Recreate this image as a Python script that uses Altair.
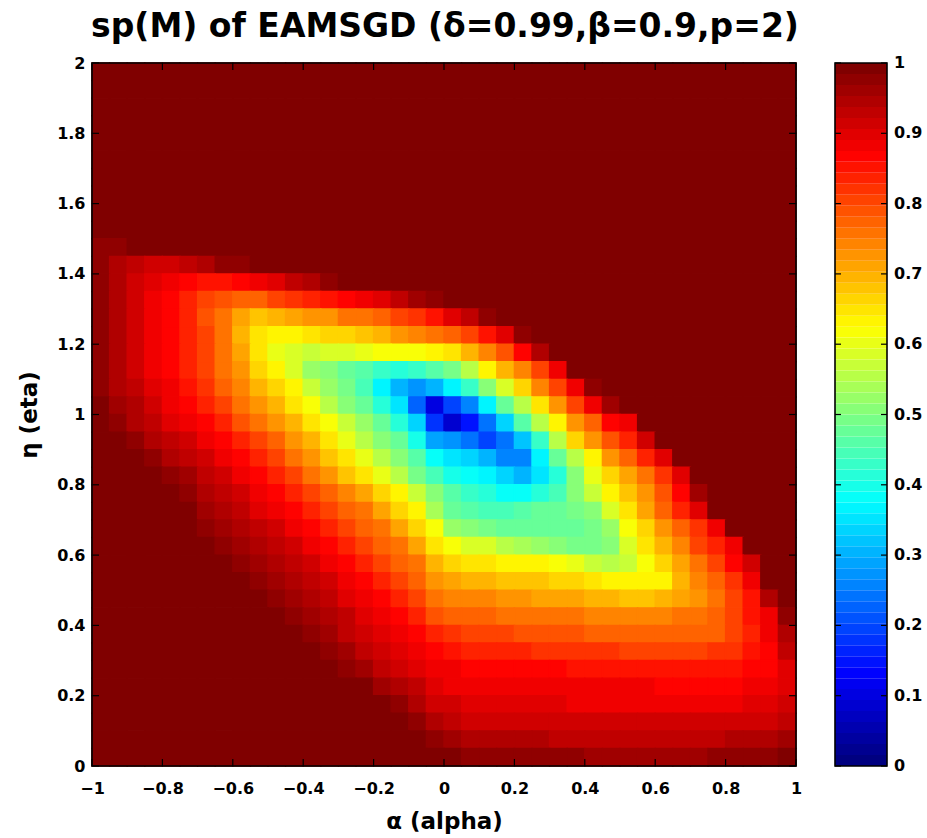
import altair as alt
import pandas as pd

# ---------------- grid (cell centres, step 0.05) ----------------
alpha_centers = [-0.975, -0.925, -0.875, -0.825, -0.775, -0.725, -0.675, -0.625, -0.575, -0.525,
                 -0.475, -0.425, -0.375, -0.325, -0.275, -0.225, -0.175, -0.125, -0.075, -0.025,
                 0.025, 0.075, 0.125, 0.175, 0.225, 0.275, 0.325, 0.375, 0.425, 0.475,
                 0.525, 0.575, 0.625, 0.675, 0.725, 0.775, 0.825, 0.875, 0.925, 0.975]
eta_centers = [1.975, 1.925, 1.875, 1.825, 1.775, 1.725, 1.675, 1.625, 1.575, 1.525,
               1.475, 1.425, 1.375, 1.325, 1.275, 1.225, 1.175, 1.125, 1.075, 1.025,
               0.975, 0.925, 0.875, 0.825, 0.775, 0.725, 0.675, 0.625, 0.575, 0.525,
               0.475, 0.425, 0.375, 0.325, 0.275, 0.225, 0.175, 0.125, 0.075, 0.025]

# ---------------- sp(M) values, one row per eta ----------------
sp_1975 = [1.0] * 40
sp_1925 = [1.0] * 40
sp_1875 = [1.0] * 40
sp_1825 = [1.0] * 40
sp_1775 = [1.0] * 40
sp_1725 = [1.0] * 40
sp_1675 = [1.0] * 40
sp_1625 = [1.0] * 40
sp_1575 = [1.0] * 40
sp_1525 = [1.0] * 40
sp_1475 = [0.98, 0.98, 0.99] + [1.0] * 37
sp_1425 = [0.97, 0.95, 0.93, 0.92, 0.92, 0.93, 0.95, 0.97, 0.98, 0.99] + [1.0] * 30
sp_1375 = [0.97, 0.95, 0.92, 0.90, 0.88, 0.86, 0.85, 0.85, 0.86, 0.88,
           0.90, 0.93, 0.95, 0.97, 0.995] + [1.0] * 25
sp_1325 = [0.97, 0.94, 0.91, 0.88, 0.86, 0.83, 0.81, 0.79, 0.78, 0.78,
           0.80, 0.82, 0.835, 0.85, 0.87, 0.885, 0.905, 0.93, 0.955, 0.98,
           0.99] + [1.0] * 19
sp_1275 = [0.97, 0.94, 0.91, 0.88, 0.86, 0.83, 0.79, 0.75, 0.71, 0.68,
           0.70, 0.71, 0.72, 0.73, 0.75, 0.76, 0.78, 0.80, 0.82, 0.85,
           0.90, 0.93, 0.97] + [1.0] * 17
sp_1225 = [0.97, 0.94, 0.91, 0.88, 0.86, 0.83, 0.80, 0.75, 0.70, 0.645,
           0.63, 0.64, 0.65, 0.66, 0.67, 0.68, 0.70, 0.72, 0.74, 0.76,
           0.78, 0.80, 0.85, 0.90, 0.98] + [1.0] * 15
sp_1175 = [0.97, 0.94, 0.91, 0.88, 0.86, 0.83, 0.80, 0.76, 0.71, 0.65,
           0.60, 0.58, 0.57, 0.58, 0.59, 0.60, 0.61, 0.61, 0.62, 0.63,
           0.645, 0.695, 0.74, 0.795, 0.86, 0.94] + [1.0] * 14
sp_1125 = [0.97, 0.94, 0.91, 0.89, 0.87, 0.84, 0.80, 0.76, 0.72, 0.67,
           0.63, 0.58, 0.53, 0.50, 0.48, 0.46, 0.43, 0.41, 0.43, 0.46,
           0.49, 0.56, 0.63, 0.69, 0.74, 0.81, 0.88, 0.99] + [1.0] * 12
sp_1075 = [0.97, 0.95, 0.93, 0.90, 0.88, 0.85, 0.82, 0.78, 0.74, 0.70,
           0.66, 0.63, 0.57, 0.53, 0.49, 0.44, 0.37, 0.30, 0.27, 0.30,
           0.36, 0.43, 0.50, 0.58, 0.67, 0.74, 0.81, 0.875, 0.98] + [1.0] * 11
sp_1025 = [0.99, 0.96, 0.94, 0.91, 0.89, 0.87, 0.84, 0.80, 0.76, 0.73,
           0.70, 0.65, 0.62, 0.56, 0.51, 0.47, 0.42, 0.35, 0.22, 0.10,
           0.20, 0.26, 0.37, 0.47, 0.55, 0.65, 0.725, 0.80, 0.875, 0.96,
           0.99] + [1.0] * 9
sp_0975 = [1.0, 0.98, 0.95, 0.93, 0.90, 0.88, 0.86, 0.83, 0.79, 0.75,
           0.73, 0.69, 0.65, 0.62, 0.57, 0.52, 0.47, 0.42, 0.33, 0.18,
           0.08, 0.15, 0.24, 0.34, 0.46, 0.56, 0.63, 0.72, 0.77, 0.87,
           0.89, 0.99] + [1.0] * 8
sp_0925 = [1.0, 0.995, 0.97, 0.95, 0.93, 0.91, 0.885, 0.865, 0.83, 0.80,
           0.77, 0.73, 0.69, 0.65, 0.60, 0.56, 0.515, 0.47, 0.395, 0.29,
           0.28, 0.24, 0.20, 0.24, 0.32, 0.43, 0.56, 0.66, 0.72, 0.79,
           0.83, 0.91, 0.99] + [1.0] * 7
sp_0875 = [1.0, 1.0, 0.99, 0.97, 0.95, 0.93, 0.91, 0.89, 0.86, 0.83,
           0.80, 0.765, 0.725, 0.685, 0.645, 0.60, 0.56, 0.51, 0.455, 0.385,
           0.35, 0.33, 0.30, 0.26, 0.26, 0.37, 0.48, 0.56, 0.64, 0.72,
           0.77, 0.83, 0.90, 0.99] + [1.0] * 6
sp_0825 = [1.0, 1.0, 1.0, 0.99, 0.97, 0.955, 0.935, 0.915, 0.89, 0.865,
           0.835, 0.80, 0.76, 0.72, 0.68, 0.645, 0.60, 0.55, 0.495, 0.445,
           0.40, 0.38, 0.36, 0.34, 0.31, 0.35, 0.41, 0.50, 0.60, 0.66,
           0.71, 0.76, 0.82, 0.90, 1.0] + [1.0] * 5
sp_0775 = [1.0, 1.0, 1.0, 1.0, 0.99, 0.97, 0.95, 0.93, 0.91, 0.89,
           0.86, 0.83, 0.80, 0.77, 0.74, 0.71, 0.67, 0.63, 0.57, 0.50,
           0.46, 0.43, 0.41, 0.39, 0.38, 0.42, 0.45, 0.50, 0.57, 0.64,
           0.68, 0.73, 0.79, 0.86, 0.96] + [1.0] * 5
sp_0725 = [1.0, 1.0, 1.0, 1.0, 1.0, 0.985, 0.965, 0.945, 0.925, 0.905,
           0.89, 0.87, 0.84, 0.81, 0.78, 0.75, 0.71, 0.67, 0.63, 0.54,
           0.48, 0.46, 0.45, 0.45, 0.46, 0.47, 0.48, 0.49, 0.51, 0.58,
           0.65, 0.71, 0.77, 0.83, 0.90, 0.99, 1.0, 1.0, 1.0, 1.0]
sp_0675 = [1.0, 1.0, 1.0, 1.0, 1.0, 1.0, 0.984, 0.965, 0.946, 0.928,
           0.909, 0.89, 0.869, 0.839, 0.809, 0.779, 0.75, 0.71, 0.67, 0.61,
           0.53, 0.50, 0.49, 0.48, 0.48, 0.47, 0.47, 0.48, 0.49, 0.52,
           0.62, 0.67, 0.72, 0.77, 0.82, 0.88, 0.99, 1.0, 1.0, 1.0]
sp_0625 = [1.0, 1.0, 1.0, 1.0, 1.0, 1.0, 1.0, 0.982, 0.963, 0.945,
           0.927, 0.908, 0.89, 0.869, 0.839, 0.81, 0.78, 0.75, 0.71, 0.65,
           0.62, 0.59, 0.58, 0.56, 0.54, 0.52, 0.50, 0.49, 0.49, 0.50,
           0.58, 0.65, 0.69, 0.74, 0.80, 0.84, 0.89, 0.99, 1.0, 1.0]
sp_0575 = [1.0] * 8 + [0.98, 0.962,
           0.944, 0.925, 0.908, 0.89, 0.87, 0.84, 0.81, 0.78, 0.75, 0.69,
           0.67, 0.655, 0.65, 0.64, 0.635, 0.63, 0.62, 0.60, 0.57, 0.56,
           0.57, 0.62, 0.67, 0.71, 0.76, 0.81, 0.86, 0.91, 1.0, 1.0]
sp_0525 = [1.0] * 8 + [0.995, 0.978,
           0.961, 0.945, 0.928, 0.91, 0.89, 0.87, 0.84, 0.81, 0.78, 0.73,
           0.71, 0.695, 0.69, 0.685, 0.68, 0.675, 0.665, 0.66, 0.65, 0.64,
           0.63, 0.625, 0.64, 0.69, 0.74, 0.78, 0.82, 0.88, 1.0, 1.0]
sp_0475 = [1.0] * 9 + [0.993,
           0.976, 0.958, 0.941, 0.924, 0.906, 0.889, 0.87, 0.835, 0.80, 0.76,
           0.74, 0.74, 0.735, 0.73, 0.72, 0.715, 0.71, 0.705, 0.695, 0.69,
           0.685, 0.68, 0.69, 0.71, 0.73, 0.76, 0.81, 0.85, 0.95, 1.0]
sp_0425 = [1.0] * 10 + [
           0.99, 0.973, 0.957, 0.94, 0.923, 0.906, 0.889, 0.87, 0.84, 0.79,
           0.77, 0.77, 0.77, 0.765, 0.76, 0.76, 0.755, 0.75, 0.745, 0.745,
           0.74, 0.74, 0.745, 0.75, 0.755, 0.77, 0.81, 0.85, 0.89, 0.98]
sp_0375 = [1.0] * 11 + [
           0.988, 0.971, 0.955, 0.937, 0.92, 0.905, 0.889, 0.87, 0.83,
           0.82, 0.805, 0.80, 0.80, 0.795, 0.79, 0.79, 0.785, 0.78, 0.78,
           0.775, 0.775, 0.77, 0.77, 0.775, 0.78, 0.80, 0.84, 0.875, 0.95]
sp_0325 = [1.0] * 12 + [
           0.991, 0.974, 0.957, 0.935, 0.92, 0.90, 0.89, 0.86,
           0.85, 0.835, 0.835, 0.83, 0.83, 0.825, 0.82, 0.82, 0.815, 0.815,
           0.81, 0.81, 0.805, 0.805, 0.81, 0.815, 0.82, 0.85, 0.87, 0.93]
sp_0275 = [1.0] * 13 + [
           0.995, 0.975, 0.955, 0.935, 0.915, 0.90, 0.885,
           0.875, 0.87, 0.865, 0.865, 0.86, 0.86, 0.86, 0.855, 0.855, 0.855,
           0.85, 0.85, 0.85, 0.85, 0.85, 0.85, 0.855, 0.86, 0.87, 0.90]
sp_0225 = [1.0] * 15 + [
           0.985, 0.965, 0.945, 0.925, 0.90,
           0.89, 0.885, 0.885, 0.88, 0.88, 0.88, 0.88, 0.875, 0.875, 0.875,
           0.875, 0.875, 0.87, 0.87, 0.87, 0.87, 0.87, 0.88, 0.89, 0.90]
sp_0175 = [1.0] * 16 + [
           0.99, 0.97, 0.945, 0.92,
           0.91, 0.90, 0.90, 0.90, 0.895, 0.895, 0.895, 0.89, 0.89, 0.89,
           0.89, 0.89, 0.89, 0.89, 0.89, 0.89, 0.89, 0.90, 0.90, 0.91]
sp_0125 = [1.0] * 17 + [
           0.995, 0.97, 0.94,
           0.93, 0.92, 0.92, 0.915, 0.915, 0.915, 0.91, 0.91, 0.91, 0.91,
           0.91, 0.91, 0.91, 0.91, 0.91, 0.91, 0.91, 0.915, 0.92, 0.93]
sp_0075 = [1.0] * 19 + [
           0.975,
           0.955, 0.95, 0.945, 0.94, 0.94, 0.94, 0.935, 0.935, 0.935, 0.935,
           0.935, 0.935, 0.935, 0.935, 0.935, 0.935, 0.94, 0.94, 0.95, 0.96]
sp_0025 = [1.0] * 20 + [
           0.99, 0.98, 0.975, 0.97, 0.97, 0.97, 0.97, 0.97, 0.965, 0.965,
           0.965, 0.965, 0.965, 0.965, 0.965, 0.97, 0.97, 0.975, 0.98, 0.99]

sp_rows = [sp_1975, sp_1925, sp_1875, sp_1825, sp_1775, sp_1725, sp_1675, sp_1625, sp_1575, sp_1525,
           sp_1475, sp_1425, sp_1375, sp_1325, sp_1275, sp_1225, sp_1175, sp_1125, sp_1075, sp_1025,
           sp_0975, sp_0925, sp_0875, sp_0825, sp_0775, sp_0725, sp_0675, sp_0625, sp_0575, sp_0525,
           sp_0475, sp_0425, sp_0375, sp_0325, sp_0275, sp_0225, sp_0175, sp_0125, sp_0075, sp_0025]

# ---------------- axis / colorbar tick labels ----------------
x_ticks = [-1, -0.8, -0.6, -0.4, -0.2, 0, 0.2, 0.4, 0.6, 0.8, 1]
y_ticks = [0, 0.2, 0.4, 0.6, 0.8, 1, 1.2, 1.4, 1.6, 1.8, 2]
cbar_ticks = [0, 0.1, 0.2, 0.3, 0.4, 0.5, 0.6, 0.7, 0.8, 0.9, 1]
cbar_labels = ["0", "0.1", "0.2", "0.3", "0.4", "0.5", "0.6", "0.7", "0.8", "0.9", "1"]

title_text = "sp(M) of EAMSGD (\u03b4=0.99,\u03b2=0.9,p=2)"
x_title = "\u03b1 (alpha)"
y_title = "\u03b7 (eta)"

# ---------------- build tables ----------------
records = []
for eta, row in zip(eta_centers, sp_rows):
    assert len(row) == 40, (eta, len(row))
    for a, v in zip(alpha_centers, row):
        records.append({"alpha": a, "eta": eta, "sp": v})
df = pd.DataFrame(records)


def jet(x):
    def c(v):
        return max(0.0, min(1.0, v))
    r = c(1.5 - abs(4 * x - 3))
    g = c(1.5 - abs(4 * x - 2))
    b = c(1.5 - abs(4 * x - 1))
    return "#%02x%02x%02x" % (round(r * 255), round(g * 255), round(b * 255))


N_COL = 64
jet64 = [jet(i / (N_COL - 1)) for i in range(N_COL)]
cbar_df = pd.DataFrame({
    "lo": [i / N_COL for i in range(N_COL)],
    "hi": [(i + 1) / N_COL for i in range(N_COL)],
    "mid": [(i + 0.5) / N_COL for i in range(N_COL)],
})
cbar_tick_df = pd.DataFrame({"v": cbar_ticks, "lab": cbar_labels})
xt_df = pd.DataFrame({"t": x_ticks})
yt_df = pd.DataFrame({"t": y_ticks})
one_df = pd.DataFrame({"k": [0]})

W, H = 704, 703
CB_X0, CB_X1 = 743, 795
FONT = "DejaVu Sans"
TICK = 7

cscale = alt.Scale(type="quantize", domain=[0, 1], range=jet64)
xscale = alt.Scale(domain=[-1, 1], nice=False, zero=False)
yscale = alt.Scale(domain=[0, 2], nice=False, zero=False)

x_axis = alt.Axis(title=x_title, values=x_ticks, format="~g", labelFont=FONT, labelFontWeight="bold",
                  labelFontSize=16, labelColor="black", labelPadding=14, labelFlush=False,
                  labelOverlap=False, ticks=False, domain=False, grid=False,
                  titleFont=FONT, titleFontWeight="bold", titleFontSize=23, titleColor="black",
                  titleY=62, titleBaseline="alphabetic")
y_axis = alt.Axis(title=y_title, values=y_ticks, format="~g", labelFont=FONT, labelFontWeight="bold",
                  labelFontSize=16, labelColor="black", labelPadding=7, labelFlush=False,
                  labelOverlap=False, ticks=False, domain=False, grid=False,
                  titleFont=FONT, titleFontWeight="bold", titleFontSize=23, titleColor="black",
                  titleX=-56, titleAngle=270, titleBaseline="alphabetic")

heat = alt.Chart(df).transform_calculate(
    a0="datum.alpha - 0.025", a1="datum.alpha + 0.025",
    e0="datum.eta - 0.025", e1="datum.eta + 0.025",
).mark_rect(strokeWidth=1.4).encode(
    x=alt.X("a0:Q", scale=xscale, axis=x_axis),
    x2="a1:Q",
    y=alt.Y("e0:Q", scale=yscale, axis=y_axis),
    y2="e1:Q",
    color=alt.Color("sp:Q", scale=cscale, legend=None),
    stroke=alt.Stroke("sp:Q", scale=cscale, legend=None),
)

tick_style = dict(color="black", strokeWidth=1.2)
top_ticks = alt.Chart(xt_df).mark_rule(**tick_style).encode(
    x=alt.X("t:Q", scale=xscale, axis=x_axis), y=alt.value(0), y2=alt.value(TICK))
bottom_ticks = alt.Chart(xt_df).mark_rule(**tick_style).encode(
    x=alt.X("t:Q", scale=xscale, axis=x_axis), y=alt.value(H - TICK), y2=alt.value(H))
left_ticks = alt.Chart(yt_df).mark_rule(**tick_style).encode(
    y=alt.Y("t:Q", scale=yscale, axis=y_axis), x=alt.value(0), x2=alt.value(TICK))
right_ticks = alt.Chart(yt_df).mark_rule(**tick_style).encode(
    y=alt.Y("t:Q", scale=yscale, axis=y_axis), x=alt.value(W - TICK), x2=alt.value(W))

box = alt.Chart(one_df).mark_rect(filled=False, stroke="black", strokeWidth=1.6).encode(
    x=alt.value(0), x2=alt.value(W), y=alt.value(0), y2=alt.value(H))

# colorbar on the right: colour value v sits at 2*v on the 0..2 vertical scale
cbar = alt.Chart(cbar_df).transform_calculate(
    y0="2*datum.lo", y1="2*datum.hi"
).mark_rect().encode(
    y=alt.Y("y0:Q", scale=yscale, axis=y_axis), y2="y1:Q",
    x=alt.value(CB_X0), x2=alt.value(CB_X1),
    color=alt.Color("mid:Q", scale=cscale, legend=None),
)
cbar_box = alt.Chart(one_df).mark_rect(filled=False, stroke="black", strokeWidth=1.6).encode(
    x=alt.value(CB_X0), x2=alt.value(CB_X1), y=alt.value(0), y2=alt.value(H))
cbar_tl = alt.Chart(cbar_tick_df).transform_calculate(yy="2*datum.v").mark_rule(**tick_style).encode(
    y=alt.Y("yy:Q", scale=yscale, axis=y_axis), x=alt.value(CB_X0), x2=alt.value(CB_X0 + 6))
cbar_tr = alt.Chart(cbar_tick_df).transform_calculate(yy="2*datum.v").mark_rule(**tick_style).encode(
    y=alt.Y("yy:Q", scale=yscale, axis=y_axis), x=alt.value(CB_X1 - 6), x2=alt.value(CB_X1))
cbar_text = alt.Chart(cbar_tick_df).transform_calculate(yy="2*datum.v").mark_text(
    align="left", baseline="middle", font=FONT, fontWeight="bold", fontSize=16, color="black"
).encode(
    y=alt.Y("yy:Q", scale=yscale, axis=y_axis), x=alt.value(CB_X1 + 7), text="lab:N")

title_mark = alt.Chart(one_df).mark_text(
    text=title_text, align="center", baseline="alphabetic", font=FONT, fontSize=33,
    fontWeight="bold", color="black"
).encode(x=alt.value(353), y=alt.value(-26))

chart = alt.layer(
    heat, top_ticks, bottom_ticks, left_ticks, right_ticks, box,
    cbar, cbar_box, cbar_tl, cbar_tr, cbar_text, title_mark,
).properties(
    width=W, height=H,
    autosize=alt.AutoSizeParams(type="none"),
    padding={"left": 92, "top": 63, "right": 131, "bottom": 72},
    background="white",
).configure_view(stroke=None)

chart.save("out.html", embed_options={"renderer": "svg", "actions": False})
